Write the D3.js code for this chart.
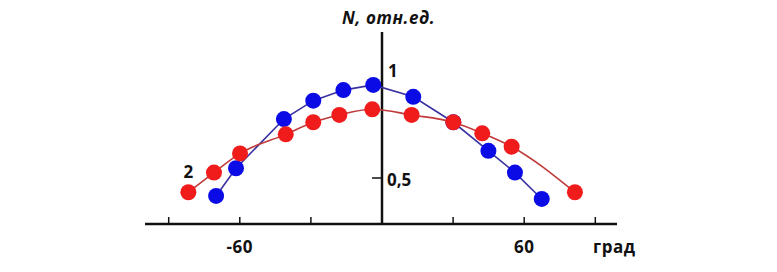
<!DOCTYPE html>
<html>
<head>
<meta charset="utf-8">
<script src="https://cdn.jsdelivr.net/npm/d3@7"></script>
<style>
html,body{margin:0;padding:0;background:#fff;}
svg{display:block;}
text{font-family:"Open Sans","Noto Sans",sans-serif;font-weight:bold;fill:#111;}
</style>
</head>
<body>
<svg id="chart" width="777" height="272"></svg>
<script>
// Data
const redAngles  = [-81.7, -70.9, -59.9, -40.6, -29.0, -18.0, -4.1, 12.5, 30.1, 42.3, 54.7, 81.4];
const redValues  = [0.434, 0.525, 0.614, 0.702, 0.758, 0.792, 0.818, 0.792, 0.758, 0.707, 0.645, 0.434];
const blueAngles = [-70.0, -61.6, -41.4, -29.0, -16.3, -3.7, 13.2, 30.1, 44.9, 56.1, 67.4];
const blueValues = [0.417, 0.545, 0.773, 0.858, 0.907, 0.931, 0.876, 0.758, 0.626, 0.525, 0.403];
const xTicks = [-90, -60, -30, 30, 60, 90];
const xTickLabels = [-60, 60];
const yTicks = [0.5];
const yLabels = ["0,5", "1"];

const svg = d3.select("#chart");
const x = d3.scaleLinear().domain([-90, 90]).range([168.7, 595.3]);
const y = d3.scaleLinear().domain([0.5, 1]).range([178, 70]);
const axisY = 224;
const fs = 17;

// x axis line
svg.append("line").attr("x1", 145).attr("x2", 617).attr("y1", axisY).attr("y2", axisY)
  .attr("stroke", "#111").attr("stroke-width", 2.5);
svg.selectAll(".xt").data(xTicks).enter().append("line")
  .attr("x1", d => x(d)).attr("x2", d => x(d)).attr("y1", axisY).attr("y2", axisY - 7)
  .attr("stroke", "#111").attr("stroke-width", 1.5);
svg.selectAll(".xl").data(xTickLabels).enter().append("text")
  .attr("x", d => x(d)).attr("y", 253).attr("text-anchor", "middle")
  .attr("font-size", fs).attr("letter-spacing", 0.5).text(d => d < 0 ? "-" + Math.abs(d) : d);
svg.append("text").attr("x", 593).attr("y", 253).attr("font-size", fs)
  .attr("letter-spacing", 0.5).text("град");

// y axis
svg.append("line").attr("x1", x(0)).attr("x2", x(0)).attr("y1", 32).attr("y2", axisY)
  .attr("stroke", "#111").attr("stroke-width", 2.5);
svg.selectAll(".yt").data(yTicks).enter().append("line")
  .attr("x1", x(0) - 10).attr("x2", x(0)).attr("y1", d => y(d)).attr("y2", d => y(d))
  .attr("stroke", "#111").attr("stroke-width", 1.5);
svg.append("text").attr("x", x(0) + 5).attr("y", y(0.5) + 8).attr("font-size", fs).text(yLabels[0]);
svg.append("text").attr("x", x(0) + 6).attr("y", y(1) + 7).attr("font-size", fs).text(yLabels[1]);
svg.append("text").attr("x", 342).attr("y", 24).attr("font-size", fs)
  .attr("font-style", "italic").attr("letter-spacing", 0.6).text("N, отн.ед.");

// series
const blue = blueAngles.map((a, i) => [a, blueValues[i]]);
const red = redAngles.map((a, i) => [a, redValues[i]]);
const lineLin = d3.line().x(d => x(d[0])).y(d => y(d[1]));
const lineSmooth = d3.line().x(d => x(d[0])).y(d => y(d[1])).curve(d3.curveMonotoneX);

svg.append("path").datum(blue).attr("d", lineLin).attr("fill", "none")
  .attr("stroke", "#3a32a0").attr("stroke-width", 1.6);
svg.selectAll(".bd").data(blue).enter().append("circle")
  .attr("cx", d => x(d[0])).attr("cy", d => y(d[1])).attr("r", 8).attr("fill", "#0b0be6");

svg.append("path").datum(red).attr("d", lineSmooth).attr("fill", "none")
  .attr("stroke", "#c03a3a").attr("stroke-width", 1.6);
svg.selectAll(".rd").data(red).enter().append("circle")
  .attr("cx", d => x(d[0])).attr("cy", d => y(d[1])).attr("r", 8).attr("fill", "#f01c1c");

svg.append("text").attr("x", x(redAngles[0])).attr("y", y(redValues[0]) - 14)
  .attr("text-anchor", "middle").attr("font-size", fs).text("2");
</script>
</body>
</html>
